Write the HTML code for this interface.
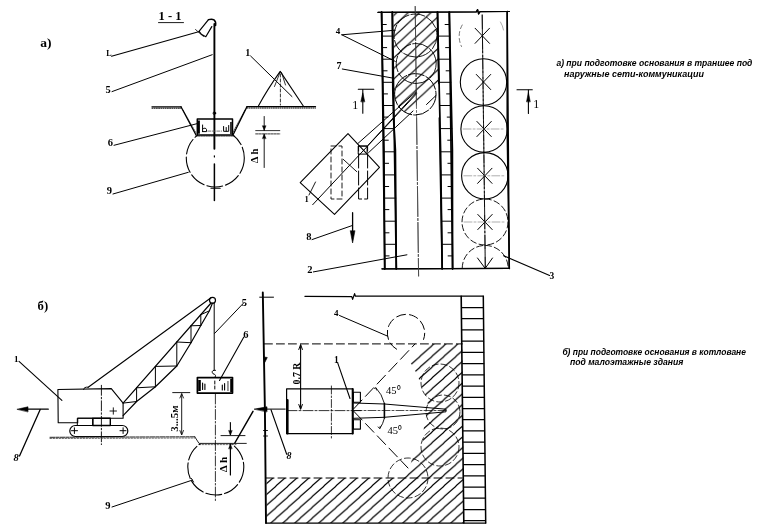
<!DOCTYPE html>
<html><head><meta charset="utf-8"><style>
html,body{margin:0;padding:0;background:#fff;}
svg{display:block;}
</style></head><body>
<svg style="will-change:transform" width="770" height="531" viewBox="0 0 770 531" stroke="#000" stroke-linecap="round" stroke-linejoin="round" fill="none">
<defs><clipPath id="cpC9a"><rect x="150" y="135" width="120" height="70"/></clipPath><pattern id="h8" patternUnits="userSpaceOnUse" width="11.4" height="10.6"><path d="M-1.1,11.6 L12.5,-1 M-1.1,1 L1.1,-1 M10.3,11.6 L12.5,9.6" stroke="#000" stroke-width="1.2"/></pattern><clipPath id="cpTr"><rect x="393.5" y="12.5" width="44.5" height="84"/><circle cx="415.3" cy="94.3" r="20.7"/></clipPath><clipPath id="cpRC"><rect x="440" y="11.5" width="80" height="257"/></clipPath><clipPath id="cpC9b"><rect x="150" y="443.8" width="120" height="70"/></clipPath><pattern id="h9" patternUnits="userSpaceOnUse" width="12" height="10.8"><path d="M-1.2,11.7 L13.2,-0.9 M-1.2,0.9 L1.2,-0.9 M10.8,11.7 L13.2,9.9" stroke="#000" stroke-width="1.2"/></pattern><clipPath id="cpPit"><path d="M426,344 L462.3,344 L463.5,479 L400,479 L409,469.3 L413,455.4 L421,447 L423,440 L424,425 L427.6,410 L427.7,404 L425.4,395.5 L418.6,378.6 L414,368 L409.5,361.6 Z"/><rect x="266.5" y="478" width="196.5" height="45"/></clipPath></defs>
<text x="40.3" y="46.8" font-size="13.5" font-weight="bold" font-style="normal" font-family="&quot;Liberation Serif&quot;, serif" stroke="none" fill="#000" >a)</text>
<text x="158.5" y="20.3" font-size="12.5" font-weight="bold" font-style="normal" font-family="&quot;Liberation Serif&quot;, serif" stroke="none" fill="#000" >1 - 1</text>
<line x1="158.5" y1="22.6" x2="183.5" y2="22.6" stroke-width="0.9" />
<line x1="214.4" y1="24" x2="214.4" y2="148.7" stroke-width="1.9" />
<line x1="214.4" y1="155.8" x2="214.4" y2="157" stroke-width="1.2" />
<line x1="214.4" y1="163.9" x2="214.4" y2="200.5" stroke-width="1.5" />
<line x1="211" y1="188.3" x2="220.2" y2="188.3" stroke-width="1.1" />
<circle cx="214.4" cy="113.2" r="1.3" fill="none" stroke-width="1.0"  />
<path d="M208.5,19.6 Q212,18.6 214,19.8 Q216.2,21.5 215.6,25.5" stroke-width="1.5" fill="none" />
<path d="M208.5,19.6 L199,31.3 L201.3,34.2 L205.8,36.7 L211.8,26.6" stroke-width="1.2" fill="none" />
<line x1="195.5" y1="29.5" x2="203.5" y2="36.5" stroke-width="0.8" />
<line x1="111.5" y1="56.2" x2="199.5" y2="31.5" stroke-width="1.1" />
<text x="106.3" y="56.3" font-size="8" font-weight="bold" font-style="normal" font-family="&quot;Liberation Serif&quot;, serif" stroke="none" fill="#000" >L</text>
<line x1="112" y1="91.6" x2="212.2" y2="54.7" stroke-width="1.0" />
<text x="105.6" y="93.2" font-size="10.5" font-weight="bold" font-style="normal" font-family="&quot;Liberation Serif&quot;, serif" stroke="none" fill="#000" >5</text>
<line x1="152" y1="106.8" x2="181" y2="106.8" stroke-width="1.3" />
<line x1="152" y1="108.2" x2="181" y2="108.2" stroke-width="1.0" stroke-dasharray="1 1.2"/>
<path d="M181,106.8 L196,135" stroke-width="1.3" fill="none" />
<path d="M183,110 L196,133" stroke-width="0.7" fill="none" stroke-dasharray="1 1.2"/>
<path d="M247,106.6 L233.1,134.7" stroke-width="1.3" fill="none" />
<path d="M245,110 L232.5,133" stroke-width="0.7" fill="none" stroke-dasharray="1 1.2"/>
<line x1="247" y1="106.6" x2="315.5" y2="106.6" stroke-width="1.3" />
<line x1="247" y1="108" x2="315.5" y2="108" stroke-width="1.0" stroke-dasharray="1 1.2"/>
<rect x="197.3" y="118.9" width="35.2" height="16" fill="none" stroke-width="1.5"/>
<rect x="197.6" y="120.5" width="2.3" height="13.2" fill="#000" stroke="none"/>
<path d="M202.6,125 L202.6,131.6 M202.6,129 Q205.5,127 206.5,129.5 L206.5,131.6 L202.6,131.6" stroke-width="1.0" fill="none" />
<line x1="207.8" y1="131.1" x2="221.6" y2="131.1" stroke-width="0.8" stroke-dasharray="3 1.5" stroke="#555"/>
<path d="M223.6,126.5 L223.6,131.3 L228.7,131.3 L228.7,125.5 M226.2,127.5 L226.2,131.3" stroke-width="1.0" fill="none" />
<rect x="230" y="122" width="2" height="12" fill="#333" stroke="none"/>
<line x1="196" y1="136" x2="234" y2="136" stroke-width="0.8" stroke-dasharray="1.5 1"/>
<circle cx="215.3" cy="158" r="29" fill="none" stroke-width="1.1" stroke-dasharray="16 3" clip-path="url(#cpC9a)"/>
<line x1="114" y1="145.3" x2="198" y2="123.4" stroke-width="1.0" />
<text x="107.8" y="145.9" font-size="10.5" font-weight="bold" font-style="normal" font-family="&quot;Liberation Serif&quot;, serif" stroke="none" fill="#000" >6</text>
<line x1="113" y1="194" x2="188.3" y2="172.3" stroke-width="1.0" />
<text x="106.8" y="193.9" font-size="10.5" font-weight="bold" font-style="normal" font-family="&quot;Liberation Serif&quot;, serif" stroke="none" fill="#000" >9</text>
<path d="M258.4,106 Q267,90 280.2,71.4 Q292,89 303.3,106" stroke-width="1.1" fill="none" />
<path d="M280.2,72 L274.5,86.5 M281.5,72.5 L285.5,85" stroke-width="0.8" fill="none" />
<line x1="280.4" y1="74" x2="280.4" y2="105" stroke-width="0.8" stroke-dasharray="3 2"/>
<line x1="250.6" y1="56" x2="292" y2="96.6" stroke-width="1.0" />
<text x="245.3" y="55.6" font-size="10" font-weight="bold" font-style="normal" font-family="&quot;Liberation Serif&quot;, serif" stroke="none" fill="#000" >1</text>
<line x1="264.2" y1="116.5" x2="264.2" y2="130.5" stroke-width="0.9" />
<path d="M262.5,126 L264.2,130.3 L265.9,126 Z" fill="#000" stroke-width="0.5"/>
<line x1="255.7" y1="130.6" x2="279.8" y2="130.6" stroke-width="0.8" />
<line x1="255.7" y1="133.9" x2="279.8" y2="133.9" stroke-width="0.8" stroke-dasharray="2 1"/>
<line x1="264.2" y1="134" x2="264.2" y2="167.5" stroke-width="0.9" />
<path d="M262.5,138.3 L264.2,134.1 L265.9,138.3 Z" fill="#000" stroke-width="0.5"/>
<text x="0" y="0" font-size="10" font-weight="bold" font-style="normal" font-family="&quot;Liberation Serif&quot;, serif" stroke="none" fill="#000" transform="translate(257.9,163.3) rotate(-90)" textLength="14.7" lengthAdjust="spacingAndGlyphs">Δ h</text>
<path d="M378,12.4 L476.3,11.9 L477.6,9.6 L478.6,14 L480,11.6 L509.5,11.5" stroke-width="1.2" fill="none" />
<line x1="382" y1="268.8" x2="509.5" y2="268.4" stroke-width="1.3" />
<line x1="381.6" y1="12" x2="384.8" y2="268.8" stroke-width="1.7" />
<line x1="392.4" y1="12" x2="396.3" y2="268.8" stroke-width="1.7" />
<line x1="437.5" y1="12" x2="442.2" y2="268.8" stroke-width="1.7" />
<line x1="449.3" y1="12" x2="452.6" y2="268.8" stroke-width="1.7" />
<line x1="507.2" y1="11.5" x2="509.3" y2="268.4" stroke-width="1.5" />
<line x1="415.2" y1="6.5" x2="418.6" y2="276" stroke-width="0.8" stroke="#444" stroke-dasharray="30 2 2 2"/>
<line x1="482.2" y1="15" x2="485.3" y2="268" stroke-width="0.8" stroke-dasharray="14 2 2 2"/>
<rect x="393" y="12" width="46" height="104" fill="url(#h8)" stroke="none" clip-path="url(#cpTr)"/>
<path d="M404,117.5 L439,83.5 L439,117.5 Z" fill="#fff" stroke="none"/>
<line x1="426.5" y1="104.5" x2="436" y2="95.5" stroke-width="1.0" />
<path d="M378,12.4 L476.3,11.9 L477.6,9.6 L478.6,14 L480,11.6 L509.5,11.5" stroke-width="1.2" fill="none" />
<line x1="382" y1="268.8" x2="509.5" y2="268.4" stroke-width="1.3" />
<path d="M381.6,12 L384,150 L384.7,268.8" stroke-width="1.7" fill="none" />
<path d="M392.3,12 L392.8,90 L393.6,120 L395.4,150 L396.3,268.8" stroke-width="1.7" fill="none" />
<path d="M437.5,12 L440.6,150 L442.2,268.8" stroke-width="1.7" fill="none" />
<path d="M449.3,12 L452.4,150 L452.6,268.8" stroke-width="1.7" fill="none" />
<path d="M507.2,11.5 L507.2,130 L509.3,268.4" stroke-width="1.5" fill="none" />
<line x1="382.3" y1="24.5" x2="386.3" y2="24.5" stroke-width="1.0" />
<line x1="445.1" y1="24.5" x2="449.1" y2="24.5" stroke-width="1.0" />
<line x1="382.0" y1="36.1" x2="392.5" y2="36.1" stroke-width="1.0" />
<line x1="438.0" y1="36.1" x2="449.8" y2="36.1" stroke-width="1.0" />
<line x1="382.7" y1="47.6" x2="386.7" y2="47.6" stroke-width="1.0" />
<line x1="445.6" y1="47.6" x2="449.6" y2="47.6" stroke-width="1.0" />
<line x1="382.4" y1="59.2" x2="392.6" y2="59.2" stroke-width="1.0" />
<line x1="438.6" y1="59.2" x2="450.4" y2="59.2" stroke-width="1.0" />
<line x1="383.1" y1="70.8" x2="387.1" y2="70.8" stroke-width="1.0" />
<line x1="446.1" y1="70.8" x2="450.1" y2="70.8" stroke-width="1.0" />
<line x1="382.8" y1="82.3" x2="392.8" y2="82.3" stroke-width="1.0" />
<line x1="439.1" y1="82.3" x2="450.9" y2="82.3" stroke-width="1.0" />
<line x1="383.5" y1="93.9" x2="387.5" y2="93.9" stroke-width="1.0" />
<line x1="446.6" y1="93.9" x2="450.6" y2="93.9" stroke-width="1.0" />
<line x1="383.2" y1="105.5" x2="393.2" y2="105.5" stroke-width="1.0" />
<line x1="439.6" y1="105.5" x2="451.4" y2="105.5" stroke-width="1.0" />
<line x1="383.9" y1="117.1" x2="387.9" y2="117.1" stroke-width="1.0" />
<line x1="447.2" y1="117.1" x2="451.2" y2="117.1" stroke-width="1.0" />
<line x1="383.6" y1="128.6" x2="394.1" y2="128.6" stroke-width="1.0" />
<line x1="440.1" y1="128.6" x2="451.9" y2="128.6" stroke-width="1.0" />
<line x1="384.3" y1="140.2" x2="388.3" y2="140.2" stroke-width="1.0" />
<line x1="447.7" y1="140.2" x2="451.7" y2="140.2" stroke-width="1.0" />
<line x1="384.0" y1="151.8" x2="395.4" y2="151.8" stroke-width="1.0" />
<line x1="440.6" y1="151.8" x2="452.4" y2="151.8" stroke-width="1.0" />
<line x1="384.6" y1="163.3" x2="388.6" y2="163.3" stroke-width="1.0" />
<line x1="447.9" y1="163.3" x2="451.9" y2="163.3" stroke-width="1.0" />
<line x1="384.1" y1="174.9" x2="395.6" y2="174.9" stroke-width="1.0" />
<line x1="440.9" y1="174.9" x2="452.4" y2="174.9" stroke-width="1.0" />
<line x1="384.7" y1="186.5" x2="388.7" y2="186.5" stroke-width="1.0" />
<line x1="448.0" y1="186.5" x2="452.0" y2="186.5" stroke-width="1.0" />
<line x1="384.3" y1="198.1" x2="395.8" y2="198.1" stroke-width="1.0" />
<line x1="441.2" y1="198.1" x2="452.5" y2="198.1" stroke-width="1.0" />
<line x1="384.9" y1="209.6" x2="388.9" y2="209.6" stroke-width="1.0" />
<line x1="448.0" y1="209.6" x2="452.0" y2="209.6" stroke-width="1.0" />
<line x1="384.4" y1="221.2" x2="395.9" y2="221.2" stroke-width="1.0" />
<line x1="441.6" y1="221.2" x2="452.5" y2="221.2" stroke-width="1.0" />
<line x1="385.0" y1="232.8" x2="389.0" y2="232.8" stroke-width="1.0" />
<line x1="448.0" y1="232.8" x2="452.0" y2="232.8" stroke-width="1.0" />
<line x1="384.6" y1="244.3" x2="396.1" y2="244.3" stroke-width="1.0" />
<line x1="441.9" y1="244.3" x2="452.6" y2="244.3" stroke-width="1.0" />
<line x1="385.1" y1="255.9" x2="389.1" y2="255.9" stroke-width="1.0" />
<line x1="448.1" y1="255.9" x2="452.1" y2="255.9" stroke-width="1.0" />
<line x1="415.2" y1="6.5" x2="418.6" y2="276" stroke-width="0.8" stroke="#444" stroke-dasharray="30 2 2 2"/>
<circle cx="415.5" cy="35.5" r="21.5" fill="none" stroke-width="0.9" stroke-dasharray="14 2" />
<circle cx="416.2" cy="63.5" r="20" fill="none" stroke-width="0.9" stroke-dasharray="16 2" />
<circle cx="415.3" cy="94.3" r="20.7" fill="none" stroke-width="1.0" stroke-dasharray="16 2" />
<line x1="482.2" y1="15" x2="485.3" y2="268" stroke-width="0.8" stroke-dasharray="16 2 2 2"/>
<g clip-path="url(#cpRC)">
<path d="M462.2,25 A23,23 0 0 0 461.5,46.5" stroke-width="0.8" fill="none" stroke-dasharray="4 3" stroke="#555"/>
<path d="M500.5,22 A23,23 0 0 1 503.5,30" stroke-width="0.7" fill="none" stroke="#888"/>
<line x1="475.1" y1="28.239999999999995" x2="489.5" y2="43.36" stroke-width="1.0" />
<line x1="475.1" y1="43.36" x2="489.5" y2="28.239999999999995" stroke-width="1.0" />
<circle cx="483.5" cy="82" r="23.2" fill="none" stroke-width="1.1"  />
<line x1="476.3" y1="74.44" x2="490.7" y2="89.56" stroke-width="1.0" />
<line x1="476.3" y1="89.56" x2="490.7" y2="74.44" stroke-width="1.0" />
<circle cx="484.1" cy="129" r="23.2" fill="none" stroke-width="1.1"  />
<line x1="476.90000000000003" y1="121.44" x2="491.3" y2="136.56" stroke-width="1.0" />
<line x1="476.90000000000003" y1="136.56" x2="491.3" y2="121.44" stroke-width="1.0" />
<line x1="463.1" y1="129" x2="505.1" y2="129" stroke-width="0.6" stroke="#777" stroke-dasharray="8 2 2 2"/>
<circle cx="484.8" cy="175.8" r="23.2" fill="none" stroke-width="1.1"  />
<line x1="477.6" y1="168.24" x2="492.0" y2="183.36" stroke-width="1.0" />
<line x1="477.6" y1="183.36" x2="492.0" y2="168.24" stroke-width="1.0" />
<line x1="463.8" y1="175.8" x2="505.8" y2="175.8" stroke-width="0.6" stroke="#777" stroke-dasharray="8 2 2 2"/>
<circle cx="485" cy="222" r="23" fill="none" stroke-width="0.9" stroke-dasharray="6 3" />
<line x1="477.8" y1="214.44" x2="492.2" y2="229.56" stroke-width="1.0" />
<line x1="477.8" y1="229.56" x2="492.2" y2="214.44" stroke-width="1.0" />
<line x1="464" y1="222" x2="506" y2="222" stroke-width="0.6" stroke="#777" stroke-dasharray="8 2 2 2"/>
<circle cx="485.2" cy="268.4" r="23" fill="none" stroke-width="0.9" stroke-dasharray="6 3" />
</g>
<path d="M477.5,258 L485.2,268.4 L492.5,258" stroke-width="1.0" fill="none" />
<path d="M348,133.6 L379.5,167.4 L334.5,214.4 L300.2,182.6 Z" stroke-width="1.1" fill="none" />
<rect x="331" y="146" width="11" height="53" fill="none" stroke-width="0.9" stroke-dasharray="5 3"/>
<rect x="358.6" y="146" width="9" height="53" fill="none" stroke-width="1.0" stroke-dasharray="14 3"/>
<rect x="358.6" y="146.1" width="8.5" height="8" fill="none" stroke-width="1.0"/>
<line x1="357.9" y1="143.5" x2="416" y2="91.8" stroke-width="1.0" />
<line x1="367.8" y1="145.5" x2="416.3" y2="92.8" stroke-width="1.0" />
<line x1="312.7" y1="204.7" x2="416.5" y2="93.8" stroke-width="1.0" />
<line x1="368.5" y1="152.7" x2="413" y2="111" stroke-width="1.0" />
<line x1="343.2" y1="159.3" x2="356.8" y2="171.7" stroke-width="0.9" />
<line x1="309" y1="195" x2="315.5" y2="182" stroke-width="0.9" />
<text x="304.5" y="202" font-size="8.5" font-weight="bold" font-style="normal" font-family="&quot;Liberation Serif&quot;, serif" stroke="none" fill="#000" >1</text>
<line x1="358.3" y1="89.3" x2="373.8" y2="89.3" stroke-width="1.1" />
<line x1="362.8" y1="113.3" x2="362.8" y2="89.5" stroke-width="1.1" />
<path d="M360.9,101.5 L362.8,92.8 L364.7,101.5 Z" fill="#000" stroke-width="0.6"/>
<text x="352.3" y="108.7" font-size="12" font-weight="normal" font-style="normal" font-family="&quot;Liberation Serif&quot;, serif" stroke="none" fill="#000" >1</text>
<line x1="517" y1="89.7" x2="532.3" y2="89.7" stroke-width="1.1" />
<line x1="528.4" y1="113.5" x2="528.4" y2="90" stroke-width="1.1" />
<path d="M526.6,101.5 L528.4,92.5 L530.2,101.5 Z" fill="#000" stroke-width="0.6"/>
<text x="533.2" y="108.1" font-size="12" font-weight="normal" font-style="normal" font-family="&quot;Liberation Serif&quot;, serif" stroke="none" fill="#000" >1</text>
<line x1="341.8" y1="34.8" x2="395.3" y2="30.2" stroke-width="1.0" />
<line x1="341.8" y1="34.8" x2="395.3" y2="61.4" stroke-width="1.0" />
<text x="335.8" y="33.8" font-size="9" font-weight="bold" font-style="normal" font-family="&quot;Liberation Serif&quot;, serif" stroke="none" fill="#000" >4</text>
<line x1="342.3" y1="69" x2="392.3" y2="78" stroke-width="1.0" />
<text x="336.5" y="69.1" font-size="10" font-weight="bold" font-style="normal" font-family="&quot;Liberation Serif&quot;, serif" stroke="none" fill="#000" >7</text>
<line x1="313.4" y1="271.9" x2="406.9" y2="254.8" stroke-width="1.0" />
<text x="307.3" y="272.7" font-size="10.5" font-weight="bold" font-style="normal" font-family="&quot;Liberation Serif&quot;, serif" stroke="none" fill="#000" >2</text>
<line x1="312" y1="239.6" x2="352" y2="225.6" stroke-width="1.0" />
<text x="306.2" y="240.1" font-size="10.5" font-weight="bold" font-style="normal" font-family="&quot;Liberation Serif&quot;, serif" stroke="none" fill="#000" >8</text>
<line x1="352.6" y1="212.7" x2="352.6" y2="236" stroke-width="1.3" />
<path d="M350.3,231 L352.6,243 L354.9,231 Z" fill="#000" stroke-width="0.6"/>
<line x1="549.6" y1="275.5" x2="503.6" y2="255.7" stroke-width="1.1" />
<text x="549.5" y="279" font-size="9.5" font-weight="bold" font-style="normal" font-family="&quot;Liberation Serif&quot;, serif" stroke="none" fill="#000" >3</text>
<text x="37.6" y="309.6" font-size="13.5" font-weight="bold" font-style="normal" font-family="&quot;Liberation Serif&quot;, serif" stroke="none" fill="#000" textLength="10.6" lengthAdjust="spacingAndGlyphs">б)</text>
<line x1="19" y1="361.4" x2="61.9" y2="400.4" stroke-width="1.1" />
<text x="14" y="361.5" font-size="9" font-weight="bold" font-style="normal" font-family="&quot;Liberation Serif&quot;, serif" stroke="none" fill="#000" >1</text>
<path d="M57.9,389.5 L111.3,388.6 L123.1,403.1 L123.1,418.2 L77.7,418.2 L77.7,422.8 L58.2,422.8 Z" stroke-width="1.1" fill="none" />
<rect x="77.7" y="418.2" width="15.1" height="7.3" fill="none" stroke-width="1.0"/>
<rect x="92.8" y="418.2" width="17.5" height="7.3" fill="none" stroke-width="1.4"/>
<rect x="69.8" y="425.5" width="58" height="11" rx="5.5" fill="none" stroke-width="1.2"/>
<path d="M71.5,430.7 L77.5,430.7 M74.4,427.8 L74.4,433.5 M120,430.7 L126,430.7 M123.1,427.8 L123.1,433.5" stroke-width="1.0" fill="none" />
<path d="M110,411 L116.5,411 M113.3,407.8 L113.3,414.2" stroke-width="0.9" fill="none" />
<line x1="101.4" y1="385.3" x2="101.4" y2="444.6" stroke-width="0.9" stroke-dasharray="10 2 1.5 2"/>
<line x1="50" y1="437.3" x2="194.8" y2="436.8" stroke-width="1.0" stroke="#222" stroke-dasharray="5 1 3 1"/>
<line x1="50" y1="438.5" x2="194.8" y2="438" stroke-width="0.8" stroke="#444" stroke-dasharray="1.5 1.5"/>
<path d="M194.8,436.8 L199,443.4 L246.3,443.4" stroke-width="1.0" fill="none" stroke="#222"/>
<line x1="199" y1="444.6" x2="236" y2="444.6" stroke-width="0.8" stroke="#444" stroke-dasharray="1.5 1.5"/>
<path d="M83.6,389.4 Q84,386.6 88.2,387.2" stroke-width="1.0" fill="none" />
<line x1="88.2" y1="387.2" x2="211" y2="297.8" stroke-width="1.1" />
<line x1="123.1" y1="403.1" x2="210.6" y2="303.5" stroke-width="1.2" />
<path d="M123.1,415.6 L136.6,401.5 L155.4,386.8 L176.8,366 L191,342.7 L200.8,325.5 L209.4,310.8 L212.5,303" stroke-width="1.2" fill="none" />
<line x1="123.1" y1="403.1" x2="136.6" y2="401.5" stroke-width="1.0" />
<line x1="136.6" y1="387.8" x2="136.6" y2="401.5" stroke-width="1.0" />
<line x1="136.6" y1="387.8" x2="155.4" y2="386.8" stroke-width="1.0" />
<line x1="155.4" y1="366.4" x2="155.4" y2="386.8" stroke-width="1.0" />
<line x1="155.4" y1="366.4" x2="176.8" y2="366" stroke-width="1.0" />
<line x1="176.8" y1="342" x2="176.8" y2="366" stroke-width="1.0" />
<line x1="176.8" y1="342" x2="191" y2="342.7" stroke-width="1.0" />
<line x1="191" y1="325.8" x2="191" y2="342.7" stroke-width="1.0" />
<line x1="191" y1="325.8" x2="200.8" y2="325.5" stroke-width="1.0" />
<line x1="200.8" y1="314.7" x2="200.8" y2="325.5" stroke-width="1.0" />
<line x1="200.8" y1="314.7" x2="209.4" y2="310.8" stroke-width="1.0" />
<circle cx="212.5" cy="300.3" r="3" fill="none" stroke-width="1.2"  />
<line x1="214.2" y1="303" x2="214.2" y2="370.3" stroke-width="1.0" />
<path d="M215.5,370.3 Q212,369.8 212.2,372.3 Q212.8,374.3 214.6,374.3 Q216.2,375 215.2,377.2" stroke-width="1.0" fill="none" />
<rect x="197.4" y="377.6" width="35.1" height="15.5" fill="none" stroke-width="1.7"/>
<rect x="198.2" y="380" width="2.6" height="11" fill="#000" stroke="none"/>
<path d="M202.6,383 L202.6,389.5 M204.9,384 L204.9,389.5" stroke-width="1.1" fill="none" />
<path d="M222.3,385 L222.3,390 M224.6,383.5 L224.6,390" stroke-width="1.1" fill="none" />
<rect x="227.3" y="381" width="1.3" height="10" fill="#666" stroke="none"/>
<rect x="230.2" y="379" width="2.2" height="13" fill="#000" stroke="none"/>
<line x1="214.8" y1="381" x2="214.8" y2="391" stroke-width="1.0" stroke-dasharray="3 2"/>
<line x1="243.7" y1="302.9" x2="214.6" y2="333.4" stroke-width="1.0" />
<text x="241.8" y="305.9" font-size="10.5" font-weight="bold" font-style="normal" font-family="&quot;Liberation Serif&quot;, serif" stroke="none" fill="#000" >5</text>
<line x1="243.7" y1="337.2" x2="219.5" y2="380.4" stroke-width="1.1" />
<text x="243.3" y="337.5" font-size="10.5" font-weight="bold" font-style="normal" font-family="&quot;Liberation Serif&quot;, serif" stroke="none" fill="#000" >6</text>
<line x1="172.7" y1="392.6" x2="189.8" y2="392.6" stroke-width="0.9" />
<line x1="181.7" y1="394" x2="181.7" y2="434" stroke-width="0.9" />
<path d="M179.9,398 L181.7,393.5 L183.5,398 M179.9,430.5 L181.7,435 L183.5,430.5" stroke-width="0.8" fill="none" />
<text x="0" y="0" font-size="10" font-weight="bold" font-style="normal" font-family="&quot;Liberation Serif&quot;, serif" stroke="none" fill="#000" transform="translate(178,431.8) rotate(-90)" textLength="26.5" lengthAdjust="spacingAndGlyphs">3...5м</text>
<circle cx="215.8" cy="467" r="28" fill="none" stroke-width="1.1" stroke-dasharray="16 3" clip-path="url(#cpC9b)"/>
<line x1="215.4" y1="394" x2="215.4" y2="501" stroke-width="0.8" stroke-dasharray="10 2 1.5 2"/>
<line x1="230.4" y1="422.6" x2="230.4" y2="434.5" stroke-width="1.1" />
<path d="M228.7,430.8 L230.4,435.2 L232.1,430.8 Z" fill="#000" stroke-width="0.5"/>
<line x1="221" y1="435.6" x2="245" y2="435.6" stroke-width="0.9" />
<line x1="230.4" y1="444" x2="230.4" y2="475" stroke-width="1.2" />
<path d="M228.7,448.5 L230.4,444.1 L232.1,448.5 Z" fill="#000" stroke-width="0.5"/>
<text x="0" y="0" font-size="10" font-weight="bold" font-style="normal" font-family="&quot;Liberation Serif&quot;, serif" stroke="none" fill="#000" transform="translate(226.9,472.3) rotate(-90)" textLength="15.5" lengthAdjust="spacingAndGlyphs">Δ h</text>
<line x1="112" y1="507" x2="192.3" y2="480.1" stroke-width="1.0" />
<line x1="191.5" y1="478.5" x2="193.5" y2="482" stroke-width="1.0" />
<text x="105.2" y="508.5" font-size="10.5" font-weight="bold" font-style="normal" font-family="&quot;Liberation Serif&quot;, serif" stroke="none" fill="#000" >9</text>
<line x1="22" y1="409.2" x2="48.3" y2="409.2" stroke-width="1.2" />
<path d="M17.3,409.2 L28,406.8 L28,411.6 Z" fill="#000" stroke-width="0.6"/>
<line x1="40.2" y1="409.5" x2="19.5" y2="456" stroke-width="1.3" />
<text x="13.5" y="461.4" font-size="10.5" font-weight="bold" font-style="italic" font-family="&quot;Liberation Serif&quot;, serif" stroke="none" fill="#000" >8</text>
<line x1="253" y1="411.4" x2="234.8" y2="443" stroke-width="1.5" />
<path d="M262.8,292.5 L264.9,409 L266,523" stroke-width="1.9" fill="none" />
<path d="M264.5,357 L267.3,357.5 L265,362 Z" fill="#000" stroke-width="0.6"/>
<line x1="263.5" y1="430.5" x2="267.5" y2="430.5" stroke-width="0.9" />
<line x1="263.5" y1="436" x2="267.5" y2="436" stroke-width="0.9" />
<line x1="259.7" y1="297.2" x2="273.5" y2="297.2" stroke-width="1.0" />
<path d="M304.9,296.3 L351.8,296.6 L352.6,299.4 L354.6,293.6 L355.4,296.2 L483.3,296.2" stroke-width="1.2" fill="none" />
<path d="M461.2,296.2 L463.8,523" stroke-width="1.6" fill="none" />
<path d="M483.3,296.2 L485.7,523" stroke-width="1.5" fill="none" />
<line x1="461.8" y1="307.5" x2="483.1" y2="307.5" stroke-width="1.25" />
<line x1="462.0" y1="318.7" x2="483.2" y2="318.7" stroke-width="1.25" />
<line x1="462.1" y1="329.9" x2="483.4" y2="329.9" stroke-width="1.25" />
<line x1="462.2" y1="341.2" x2="483.5" y2="341.2" stroke-width="1.25" />
<line x1="462.3" y1="352.4" x2="483.6" y2="352.4" stroke-width="1.25" />
<line x1="462.5" y1="363.6" x2="483.7" y2="363.6" stroke-width="1.25" />
<line x1="462.6" y1="374.8" x2="483.8" y2="374.8" stroke-width="1.25" />
<line x1="462.7" y1="386.0" x2="484.0" y2="386.0" stroke-width="1.25" />
<line x1="462.9" y1="397.3" x2="484.1" y2="397.3" stroke-width="1.25" />
<line x1="463.0" y1="408.5" x2="484.2" y2="408.5" stroke-width="1.25" />
<line x1="463.1" y1="419.7" x2="484.3" y2="419.7" stroke-width="1.25" />
<line x1="463.2" y1="430.9" x2="484.4" y2="430.9" stroke-width="1.25" />
<line x1="463.4" y1="442.1" x2="484.5" y2="442.1" stroke-width="1.25" />
<line x1="463.5" y1="453.4" x2="484.7" y2="453.4" stroke-width="1.25" />
<line x1="463.6" y1="464.6" x2="484.8" y2="464.6" stroke-width="1.25" />
<line x1="463.8" y1="475.8" x2="484.9" y2="475.8" stroke-width="1.25" />
<line x1="463.9" y1="487.0" x2="485.0" y2="487.0" stroke-width="1.25" />
<line x1="464.0" y1="498.2" x2="485.1" y2="498.2" stroke-width="1.25" />
<line x1="464.1" y1="509.5" x2="485.3" y2="509.5" stroke-width="1.25" />
<line x1="464.3" y1="520.7" x2="485.4" y2="520.7" stroke-width="1.25" />
<line x1="264.4" y1="343.9" x2="462.3" y2="343.9" stroke-width="1.0" stroke-dasharray="8 4"/>
<rect x="260" y="340" width="210" height="190" fill="url(#h9)" stroke="none" clip-path="url(#cpPit)"/>
<line x1="266" y1="478" x2="462.3" y2="478" stroke-width="1.0" stroke-dasharray="8 4"/>
<line x1="266" y1="523.1" x2="485.7" y2="523.1" stroke-width="1.4" />
<path d="M396.6,349.2 A18.7,18.7 0 1 1 423.6,339.4" stroke-width="1.0" fill="none" stroke-dasharray="9 4"/>
<line x1="339.5" y1="315.5" x2="387.5" y2="336.1" stroke-width="1.0" />
<text x="334" y="315.5" font-size="9" font-weight="bold" font-style="normal" font-family="&quot;Liberation Serif&quot;, serif" stroke="none" fill="#000" >4</text>
<rect x="286.6" y="388.9" width="66.4" height="44.8" fill="none" stroke-width="1.2"/>
<line x1="287.5" y1="400" x2="287.5" y2="433.5" stroke-width="2.2" />
<line x1="352.6" y1="389" x2="352.6" y2="433.5" stroke-width="1.8" />
<rect x="353.4" y="392.3" width="7" height="9.9" fill="none" stroke-width="1.1"/>
<rect x="353.4" y="419.7" width="7" height="9.4" fill="none" stroke-width="1.1"/>
<line x1="331.4" y1="386" x2="331.4" y2="439" stroke-width="0.8" stroke-dasharray="8 2 1.5 2"/>
<line x1="287" y1="410.6" x2="361" y2="410.6" stroke-width="0.8" stroke-dasharray="10 2 2 2"/>
<line x1="337.6" y1="362.6" x2="350" y2="398.5" stroke-width="1.1" />
<text x="334" y="362.6" font-size="9.5" font-weight="bold" font-style="normal" font-family="&quot;Liberation Serif&quot;, serif" stroke="none" fill="#000" >1</text>
<line x1="300.6" y1="345" x2="300.6" y2="408.5" stroke-width="1.1" />
<path d="M298.8,349.5 L300.6,344.5 L302.4,349.5 M298.8,404.5 L300.6,409.4 L302.4,404.5" stroke-width="1.0" fill="none" />
<text x="0" y="0" font-size="11" font-weight="bold" font-style="normal" font-family="&quot;Liberation Serif&quot;, serif" stroke="none" fill="#000" transform="translate(300.2,384.4) rotate(-90)" textLength="21.8" lengthAdjust="spacingAndGlyphs">0.7 R</text>
<line x1="258" y1="409.1" x2="285.2" y2="409.1" stroke-width="1.0" />
<path d="M254.4,409.1 L267,406.8 L267,411.6 Z" fill="#000" stroke-width="0.6"/>
<line x1="286.7" y1="454.3" x2="271" y2="409.8" stroke-width="1.1" />
<text x="286.5" y="458.8" font-size="10" font-weight="bold" font-style="italic" font-family="&quot;Liberation Serif&quot;, serif" stroke="none" fill="#000" >8</text>
<path d="M353.5,403 L384.4,404 L446,409.2 L446,411.8 L384.4,417.3 L353.5,418.3" stroke-width="1.0" fill="none" />
<line x1="354" y1="410.5" x2="446" y2="410.5" stroke-width="0.7" stroke-dasharray="8 2 2 2"/>
<line x1="384.4" y1="403.5" x2="384.4" y2="418" stroke-width="1.6" />
<path d="M376,387.8 Q382,394 384.4,403.4" stroke-width="0.9" fill="none" />
<path d="M384.4,418.3 Q383,424 379.9,428.5" stroke-width="0.9" fill="none" />
<path d="M374.5,388.5 L376,387.8 L376.5,390 M378,427 L379.9,428.5 L380.2,426.3" stroke-width="0.8" fill="none" />
<text x="386" y="394.3" font-size="10.5" font-weight="normal" font-style="normal" font-family="&quot;Liberation Serif&quot;, serif" stroke="none" fill="#000" >45⁰</text>
<text x="387.5" y="434" font-size="10.5" font-weight="normal" font-style="normal" font-family="&quot;Liberation Serif&quot;, serif" stroke="none" fill="#000" >45⁰</text>
<line x1="353.8" y1="408.7" x2="415" y2="344" stroke-width="1.0" stroke-dasharray="12 5"/>
<line x1="353.8" y1="411.3" x2="408" y2="468" stroke-width="1.0" stroke-dasharray="12 5"/>
<circle cx="440" cy="383" r="19" fill="none" stroke-width="0.8" stroke-dasharray="6 3" />
<circle cx="443" cy="412" r="17" fill="none" stroke-width="0.8" stroke-dasharray="6 3" />
<circle cx="440" cy="447" r="19" fill="none" stroke-width="0.8" stroke-dasharray="6 3" />
<circle cx="408" cy="478" r="20" fill="none" stroke-width="0.8" stroke-dasharray="6 3" />
<text x="556.4" y="65.6" font-size="9.2" font-weight="bold" font-style="italic" font-family="&quot;Liberation Sans&quot;, sans-serif" stroke="none" fill="#000" textLength="196" lengthAdjust="spacingAndGlyphs">а) при подготовке основания в траншее под</text>
<text x="564" y="76.6" font-size="9.2" font-weight="bold" font-style="italic" font-family="&quot;Liberation Sans&quot;, sans-serif" stroke="none" fill="#000" textLength="140" lengthAdjust="spacingAndGlyphs">наружные сети-коммуникации</text>
<text x="562.4" y="354.6" font-size="9.2" font-weight="bold" font-style="italic" font-family="&quot;Liberation Sans&quot;, sans-serif" stroke="none" fill="#000" textLength="183.5" lengthAdjust="spacingAndGlyphs">б) при подготовке основания в котловане</text>
<text x="569.9" y="365.2" font-size="9.2" font-weight="bold" font-style="italic" font-family="&quot;Liberation Sans&quot;, sans-serif" stroke="none" fill="#000" textLength="113.5" lengthAdjust="spacingAndGlyphs">под малоэтажные здания</text>
</svg>
</body></html>
